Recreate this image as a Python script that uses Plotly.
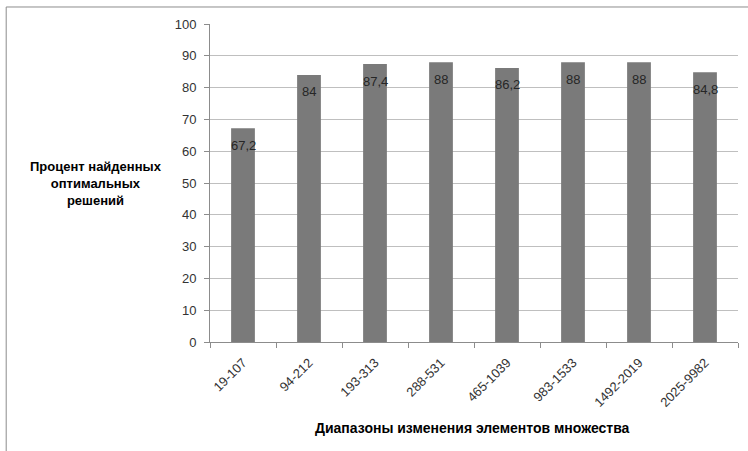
import plotly.graph_objects as go

# Ranges of set element values and share of optimal solutions found (%)
categories = ["19-107", "94-212", "193-313", "288-531", "465-1039",
              "983-1533", "1492-2019", "2025-9982"]
values = [67.2, 84, 87.4, 88, 86.2, 88, 88, 84.8]
y_ticks = [0, 10, 20, 30, 40, 50, 60, 70, 80, 90, 100]

FONT = "Liberation Sans"
TEXT = "#333333"

fig = go.Figure()
fig.add_trace(go.Bar(
    x=categories, y=values,
    marker=dict(color="#7a7a7a", line=dict(width=0)),
    width=0.36,
    hoverinfo="x+y",
))

# Value labels just below the top of each bar, with comma decimal separator
for c, v in zip(categories, values):
    label = f"{v:g}".replace(".", ",")
    fig.add_annotation(x=c, y=v, text=label, showarrow=False,
                       yshift=-17, yanchor="middle",
                       font=dict(family=FONT, size=13, color="#262626"))

# Axis titles
fig.add_annotation(xref="paper", yref="paper", x=-0.216, y=0.497,
                   xanchor="center", yanchor="middle",
                   text="<b>Процент найденных<br>оптимальных<br>решений</b>",
                   showarrow=False, align="center",
                   font=dict(family=FONT, size=13, color="#000000"))
fig.add_annotation(xref="paper", yref="paper", x=0.498, y=-0.27,
                   xanchor="center", yanchor="middle",
                   text="<b>Диапазоны изменения элементов множества</b>",
                   showarrow=False,
                   font=dict(family=FONT, size=14, color="#000000"))

# Chart frame (top and left edges)
fig.add_shape(type="line", xref="paper", yref="paper",
              x0=-0.386, x1=1.2, y0=1.0535, y1=1.0535,
              line=dict(color="#8c8c8c", width=1))
fig.add_shape(type="line", xref="paper", yref="paper",
              x0=-0.386, x1=-0.386, y0=1.0535, y1=-0.5,
              line=dict(color="#8c8c8c", width=1))

fig.update_layout(
    width=748, height=451,
    margin=dict(l=210, r=10, t=24, b=109),
    paper_bgcolor="white", plot_bgcolor="white",
    showlegend=False,
    font=dict(family=FONT, size=12, color=TEXT),
    xaxis=dict(
        type="category",
        showline=True, linecolor="#8c8c8c", linewidth=1,
        ticks="outside", tickson="boundaries", ticklen=5, tickcolor="#8c8c8c",
        tickangle=-45, tickfont=dict(family=FONT, size=13, color=TEXT),
        ticklabelstandoff=7,
        showgrid=False, zeroline=False,
    ),
    yaxis=dict(
        range=[0, 100], tickvals=y_ticks,
        showline=True, linecolor="#8c8c8c", linewidth=1,
        ticks="outside", ticklen=5, tickcolor="#8c8c8c",
        tickfont=dict(family=FONT, size=13, color=TEXT),
        ticklabelstandoff=5,
        showgrid=True, gridcolor="#bfbfbf", gridwidth=1,
        zeroline=False,
    ),
)

fig.write_html("out.html")
